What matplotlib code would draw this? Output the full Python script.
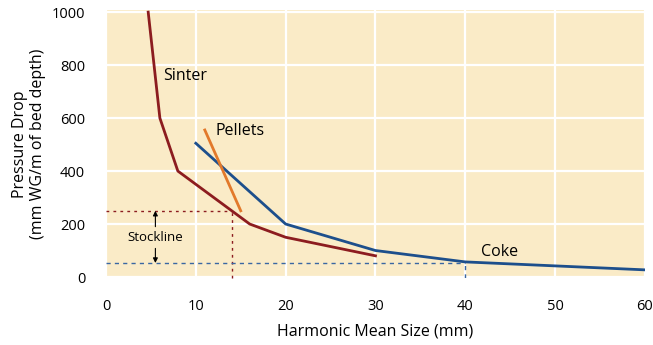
import matplotlib.pyplot as plt

# -------------------------------------------------
# Data
# -------------------------------------------------

sinter_size = [4.7, 6, 8, 16, 20, 30]
sinter_drop = [1000, 600, 400, 200, 150, 80]

pellets_size = [11, 15]
pellets_drop = [555, 250]

coke_size = [10, 20, 30, 40, 60]
coke_drop = [505, 200, 100, 57, 27]

stock_top = 250
stock_bottom = 53
sinter_cut = 14
coke_cut = 40

x_ticks = [0, 10, 20, 30, 40, 50, 60]
y_ticks = [0, 200, 400, 600, 800, 1000]

# -------------------------------------------------
# Colours
# -------------------------------------------------

BG = "#FAEBC7"
SINTER = "#8C1C1F"
PELLETS = "#E2792B"
COKE = "#1D4F8C"
COKE_GUIDE = "#3A67A3"

plt.rcParams["font.family"] = ["Open Sans", "DejaVu Sans"]

fig = plt.figure(figsize=(6.53, 3.45), dpi=100)
ax = fig.add_axes([0.1623, 0.194, 0.8254, 0.777])
ax.set_facecolor(BG)

ax.set_xlim(0, 60)
ax.set_ylim(-4, 1008)
ax.set_xticks(x_ticks)
ax.set_yticks(y_ticks)
ax.grid(True, color="white", linewidth=1.6)
ax.set_axisbelow(True)
for s in ax.spines.values():
    s.set_visible(False)
ax.tick_params(length=0, labelsize=10.5)
ax.tick_params(axis="x", pad=15)
ax.tick_params(axis="y", pad=15)

# guide lines
ax.plot([0, sinter_cut], [stock_top, stock_top], color=SINTER, lw=1, ls=(0, (2, 3)))
ax.plot([sinter_cut, sinter_cut], [-4, stock_top], color=SINTER, lw=1, ls=(0, (2, 3)), clip_on=False)
ax.plot([0, coke_cut], [stock_bottom, stock_bottom], color=COKE_GUIDE, lw=1, ls=(0, (3, 3)))
ax.plot([coke_cut, coke_cut], [-4, coke_drop[3]], color=COKE_GUIDE, lw=1, ls=(0, (3, 3)))

# curves
ax.plot(sinter_size, sinter_drop, color=SINTER, lw=2)
ax.plot(coke_size, coke_drop, color=COKE, lw=2)
ax.plot(pellets_size, pellets_drop, color=PELLETS, lw=2)

# stockline arrows
arrow = dict(arrowstyle="-|>", color="black", lw=0.8, mutation_scale=7, shrinkA=0, shrinkB=0)
ax.annotate("", xy=(5.5, stock_top), xytext=(5.5, 190), arrowprops=arrow)
ax.annotate("", xy=(5.5, stock_bottom), xytext=(5.5, 108), arrowprops=arrow)
ax.text(5.5, 150, "Stockline", ha="center", va="center", fontsize=9.5)

ax.text(6.4, 760, "Sinter", fontsize=11.5, va="center")
ax.text(12.2, 552, "Pellets", fontsize=11.5, va="center")
ax.text(43.8, 96, "Coke", fontsize=11.5, va="center", ha="center")

ax.set_xlabel("Harmonic Mean Size (mm)", fontsize=11.5, labelpad=7)
ax.set_ylabel("Pressure Drop\n(mm WG/m of bed depth)", fontsize=11.5, labelpad=4)

plt.savefig("out.png", dpi=100)
